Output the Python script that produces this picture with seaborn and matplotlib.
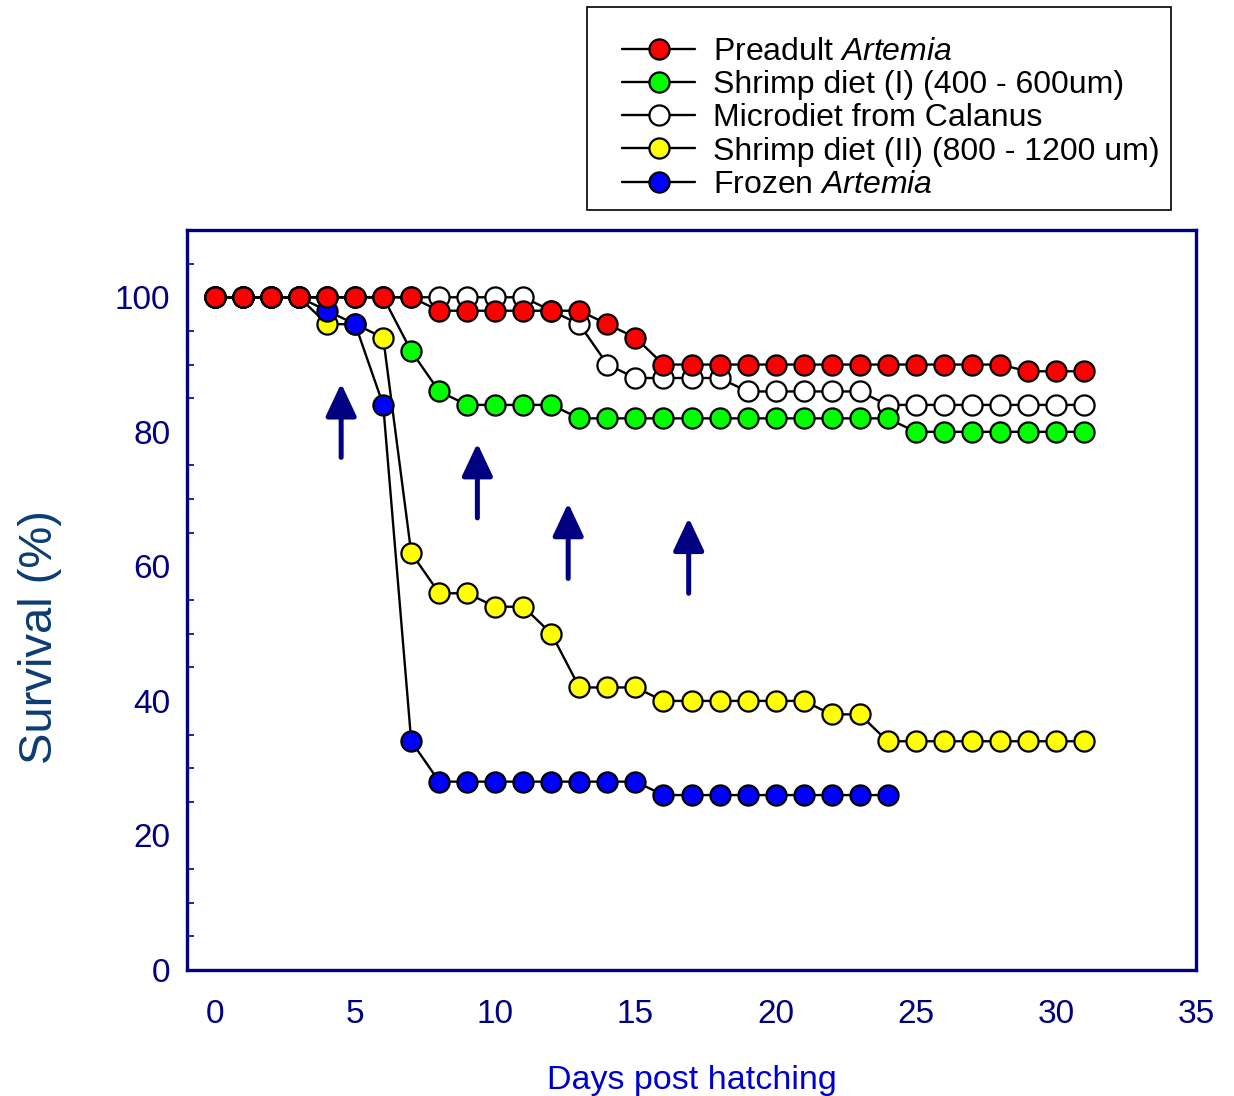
import numpy as np
import pandas as pd
import seaborn as sns
import matplotlib
matplotlib.use("Agg")
import matplotlib.pyplot as plt
from matplotlib.patches import Rectangle
from matplotlib.ticker import MultipleLocator

# ---------------- data ----------------
days_full = [0, 1, 2, 3, 4, 5, 6, 7, 8, 9, 10, 11, 12, 13, 14, 15,
             16, 17, 18, 19, 20, 21, 22, 23, 24, 25, 26, 27, 28, 29, 30, 31]
days_frozen = [0, 1, 2, 3, 4, 5, 6, 7, 8, 9, 10, 11, 12, 13, 14, 15,
               16, 17, 18, 19, 20, 21, 22, 23, 24]

preadult_artemia = [100, 100, 100, 100, 100, 100, 100, 100, 98, 98, 98, 98, 98, 98, 96, 94,
                    90, 90, 90, 90, 90, 90, 90, 90, 90, 90, 90, 90, 90, 89, 89, 89]
shrimp_diet_I = [100, 100, 100, 100, 100, 100, 100, 92, 86, 84, 84, 84, 84, 82, 82, 82,
                 82, 82, 82, 82, 82, 82, 82, 82, 82, 80, 80, 80, 80, 80, 80, 80]
microdiet_calanus = [100, 100, 100, 100, 100, 100, 100, 100, 100, 100, 100, 100, 98, 96, 90, 88,
                     88, 88, 88, 86, 86, 86, 86, 86, 84, 84, 84, 84, 84, 84, 84, 84]
shrimp_diet_II = [100, 100, 100, 100, 96, 96, 94, 62, 56, 56, 54, 54, 50, 42, 42, 42,
                  40, 40, 40, 40, 40, 40, 38, 38, 34, 34, 34, 34, 34, 34, 34, 34]
frozen_artemia = [100, 100, 100, 100, 98, 96, 84, 34, 28, 28, 28, 28, 28, 28, 28, 28,
                  26, 26, 26, 26, 26, 26, 26, 26, 26]

series_labels = ["Preadult $\\mathit{Artemia}$",
                 "Shrimp diet (I) (400 - 600um)",
                 "Microdiet from Calanus",
                 "Shrimp diet (II) (800 - 1200 um)",
                 "Frozen $\\mathit{Artemia}$"]
series_colors = ["#ff0000", "#00ff00", "#ffffff", "#ffff00", "#0000ff"]

# arrows (day, tail survival, tip survival)
arrow_x = [4.5, 9.36, 12.6, 16.9]
arrow_tail = [76.2, 67.2, 58.2, 56.0]
arrow_tip = [87.2, 78.3, 69.4, 67.2]

# ---------------- style ----------------
sns.set_theme(style="white")
plt.rcParams["font.family"] = ["Liberation Sans", "DejaVu Sans"]
plt.rcParams["mathtext.fontset"] = "custom"
plt.rcParams["mathtext.rm"] = "Liberation Sans"
plt.rcParams["mathtext.it"] = "Liberation Sans:italic"
plt.rcParams["text.color"] = "black"

NAVY = "#000080"

fig = plt.figure(figsize=(12.34, 10.96), dpi=100)
ax = fig.add_axes([187 / 1234, 126 / 1096, (1196 - 187) / 1234, (970 - 230) / 1096])

data_sets = [
    (days_full, preadult_artemia),
    (days_full, shrimp_diet_I),
    (days_full, microdiet_calanus),
    (days_full, shrimp_diet_II),
    (days_frozen, frozen_artemia),
]
zorders = [10, 6, 4, 5, 8]

handles = []
for (dx, dy), lab, col, z in zip(data_sets, series_labels, series_colors, zorders):
    df = pd.DataFrame({"day": dx, "survival": dy})
    sns.lineplot(data=df, x="day", y="survival", ax=ax, color="black", lw=1.7,
                 marker="o", markersize=14.5, markerfacecolor=col,
                 markeredgecolor="black", markeredgewidth=1.6, zorder=z,
                 label=lab, legend=False)
    handles.append(ax.lines[-1])

# arrows
for xa, yt, yh in zip(arrow_x, arrow_tail, arrow_tip):
    ax.annotate("", xy=(xa, yh), xytext=(xa, yt),
                arrowprops=dict(arrowstyle="-|>,head_length=1.0,head_width=0.47",
                                mutation_scale=20, color=NAVY, lw=3.6,
                                shrinkA=0, shrinkB=0), zorder=3)

ax.set_xlim(-1, 35)
ax.set_ylim(0, 110)
ax.xaxis.set_major_locator(MultipleLocator(5))
ax.yaxis.set_major_locator(MultipleLocator(20))
ax.yaxis.set_minor_locator(MultipleLocator(5))

for s in ax.spines.values():
    s.set_color(NAVY)
    s.set_linewidth(2.4)
    s.set_visible(True)

ax.tick_params(axis="both", which="major", direction="in", length=7.5, width=1.2,
               color="black", labelcolor=NAVY, labelsize=24)
ax.tick_params(axis="x", which="major", pad=21, top=False)
ax.tick_params(axis="y", which="major", pad=12, right=False)
ax.tick_params(axis="y", which="minor", direction="in", length=5, width=1.2,
               color=NAVY, left=True, right=False)

ax.set_xlabel("Days post hatching", fontsize=24.5, color="#0000cc", va="center")
ax.xaxis.set_label_coords(0.5, -0.15)
ax.set_ylabel("Survival (%)", fontsize=34, color="#0b3d72", va="center")
ax.yaxis.set_label_coords(-0.146, 0.45)

# legend frame
fig.patches.append(Rectangle((587 / 1234, 1 - 210 / 1096), (1171 - 587) / 1234,
                             (210 - 7) / 1096, transform=fig.transFigure,
                             facecolor="white", edgecolor="black", lw=1.2))
leg = fig.legend(handles, series_labels, loc="upper left",
                 bbox_to_anchor=(622 / 1234, 1 - 37 / 1096),
                 frameon=False, fontsize=23, borderpad=0, borderaxespad=0,
                 handlelength=2.29, handletextpad=0.56, labelspacing=0.1)
for t in leg.get_texts():
    t.set_color("black")

fig.savefig("out.png", dpi=100)
